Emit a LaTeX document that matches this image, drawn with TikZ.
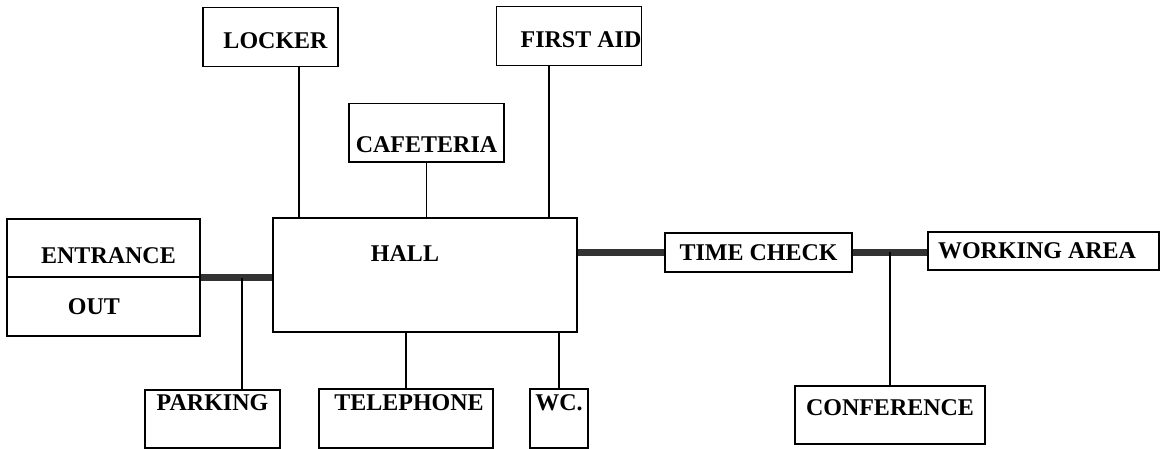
\documentclass[tikz,border=0pt]{standalone}
\usepackage{fontspec}
\setmainfont{Liberation Serif}
\usepackage{tikz}
\usetikzlibrary{positioning,calc}

\begin{document}
\begin{tikzpicture}[x=0.5pt, y=-0.5pt]
  \tikzset{
    room/.style = {draw, line width=0.75pt, inner sep=0pt, anchor=north,
                   font=\bfseries\fontsize{12}{14}\selectfont},
    link/.style = {line width=0.75pt},
    corridor/.style = {line width=3.3pt, draw=black!80}
  }
  \useasboundingbox (0,0) rectangle (1161,449);

  % top row
  \node[room, minimum width=67.5pt, text height=20.5pt, text depth=9pt] (locker) at (270.5,7) {\hspace{5pt}LOCKER};
  \node[room, minimum width=77.5pt, text height=24.5pt, text depth=4.5pt] (cafeteria) at (426.5,103) {CAFETERIA};
  \node[room, minimum width=67pt, text height=20.5pt, text depth=9pt] (firstaid) at (569,6) {\hspace{12pt}FIRST AID};

  % middle row
  \node[room, minimum width=96.5pt, text height=22.5pt, text depth=6.5pt] (entrance) at (103.5,218) {\hspace{5pt}ENTRANCE};
  \node[room, minimum width=96.5pt, text height=19pt, text depth=10.5pt] (out) at (103.5,276) {OUT\kern9.5pt};
  \node[room, minimum width=152pt, text height=22pt, text depth=35pt] (hall) at (425,217) {HALL\kern20pt};
  \node[room, minimum width=93.5pt, text height=14pt, text depth=5.5pt] (timecheck) at (758.5,232) {TIME CHECK};
  \node[room, minimum width=115.5pt, text height=13.5pt, text depth=5.5pt] (workarea) at (1043.5,231) {WORKING AREA\kern6.5pt};

  % bottom row
  \node[room, minimum width=67.5pt, text height=10.5pt, text depth=18.5pt] (parking) at (212.5,389) {PARKING};
  \node[room, minimum width=87pt, text height=11pt, text depth=18.5pt] (telephone) at (406,388) {\hspace{3pt}TELEPHONE};
  \node[room, minimum width=29pt, text height=11pt, text depth=18.5pt] (wc) at (559,388) {WC.};
  \node[room, minimum width=95pt, text height=15pt, text depth=14pt] (conference) at (890,385) {CONFERENCE};

  % thick corridors
  \draw[corridor] (entrance.south east) -- (entrance.south east -| hall.west);
  \draw[corridor] (timecheck.west) -- (timecheck.west -| hall.east);
  \draw[corridor] (timecheck.east) -- (timecheck.east -| workarea.west);

  % thin links
  \draw[link] (locker.south -| 299,0) -- (hall.north -| 299,0);
  \draw[link] (cafeteria.south) -- (cafeteria.south |- hall.north);
  \draw[link] (firstaid.south -| 549,0) -- (hall.north -| 549,0);
  \draw[link] (parking.north -| 242,0) -- (entrance.south east -| 242,0);
  \draw[link] (telephone.north) -- (telephone.north |- hall.south);
  \draw[link] (wc.north) -- (wc.north |- hall.south);
  \draw[link] (conference.north) -- (conference.north |- timecheck.east);
\end{tikzpicture}
\end{document}
